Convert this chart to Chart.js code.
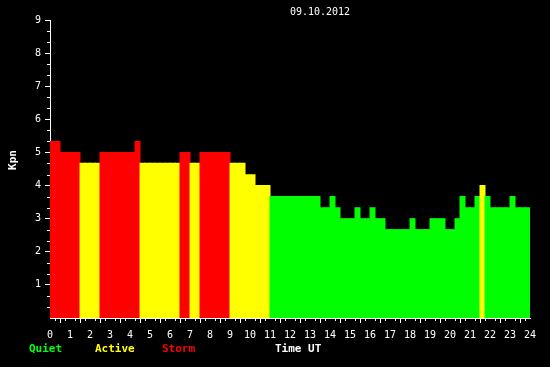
<!DOCTYPE html>
<html>
<head>
<meta charset="utf-8">
<script src="https://cdn.jsdelivr.net/npm/chart.js@4.4.0/dist/chart.umd.min.js"></script>
<style>
html,body{margin:0;padding:0;background:#000;}
canvas{display:block;}
</style>
</head>
<body>
<canvas id="c" width="550" height="367"></canvas>
<script>
// 15-minute Kp values, 00:00 to 24:00 UT (96 slots)
const kpRuns = [
  [5.33,2],[5.0,4],[4.67,4],[5.0,7],[5.33,1],[4.67,8],[5.0,2],[4.67,2],[5.0,6],
  [4.67,3],[4.33,2],[4.0,3],
  [3.67,10],[3.33,2],[3.67,1],[3.33,1],[3.0,3],[3.33,1],[3.0,2],[3.33,1],[3.0,2],
  [2.67,5],[3.0,1],[2.67,3],[3.0,3],[2.67,2],[3.0,1],[3.67,1],[3.33,2],[3.67,1],
  [4.0,1],[3.67,1],[3.33,4],[3.67,1],[3.33,3]
];
const kpValues = [];
kpRuns.forEach(([v,n]) => { for (let i=0;i<n;i++) kpValues.push(v); });
const slotHours = kpValues.map((v,i) => i*0.25 + 0.125);
const xTickValues = Array.from({length:25},(_,i)=>i);
const yTickLabels = ['','1','2','3','4','5','6','7','8','9'];
const titleText = '09.10.2012';
const legendItems = [
  {text:'Quiet', color:'#00ff00', x:29},
  {text:'Active', color:'#ffff00', x:95},
  {text:'Storm', color:'#ff0000', x:162},
  {text:'Time UT', color:'#ffffff', x:275}
];

function kpColor(v){ return v >= 5 ? '#ff0000' : (v >= 4 ? '#ffff00' : '#00ff00'); }

const MONO = '"DejaVu Sans Mono", monospace';

const decor = {
  id:'decor',
  beforeDraw(chart){
    const c = chart.ctx;
    c.save(); c.fillStyle='#000'; c.fillRect(0,0,chart.width,chart.height); c.restore();
  },
  afterDraw(chart){
    const c = chart.ctx, xs = chart.scales.x, ys = chart.scales.y;
    const area = chart.chartArea;
    c.save();
    c.strokeStyle = '#fff'; c.lineWidth = 1;
    // minor x ticks every 15 min
    for (let t=0.25; t<24; t+=0.25){
      if (Math.abs(t-Math.round(t))<1e-6) continue;
      const px = Math.round(xs.getPixelForValue(t)) + 0.5;
      c.beginPath(); c.moveTo(px, area.bottom); c.lineTo(px, area.bottom+3); c.stroke();
    }
    // minor y ticks every 1/3
    for (let k=1; k<27; k++){
      if (k%3===0) continue;
      const py = Math.round(ys.getPixelForValue(k/3)) + 0.5;
      c.beginPath(); c.moveTo(area.left-3, py); c.lineTo(area.left, py); c.stroke();
    }
    // title
    c.fillStyle = '#fff';
    c.font = '10px ' + MONO;
    c.textAlign = 'center'; c.textBaseline = 'middle';
    c.fillText(titleText, 320, 12);
    // legend / axis label row
    c.font = 'bold 11px ' + MONO;
    c.textAlign = 'left';
    legendItems.forEach(it => { c.fillStyle = it.color; c.fillText(it.text, it.x, 349); });
    // y-axis title
    c.save();
    c.translate(13, 160); c.rotate(-Math.PI/2);
    c.fillStyle = '#fff'; c.textAlign = 'center'; c.textBaseline = 'middle';
    c.fillText('Kpn', 0, 0);
    c.restore();
    c.restore();
  }
};

new Chart(document.getElementById('c'), {
  type:'bar',
  data:{
    datasets:[{
      data: slotHours.map((x,i)=>({x, y:kpValues[i]})),
      backgroundColor: kpValues.map(kpColor),
      borderWidth:0,
      barPercentage:1,
      categoryPercentage:1,
      inflateAmount:0.5
    }]
  },
  options:{
    responsive:false,
    animation:false,
    devicePixelRatio:1,
    layout:{padding:{top:20,right:20,left:0,bottom:0}},
    plugins:{legend:{display:false}, tooltip:{enabled:false}, title:{display:false}},
    scales:{
      x:{
        type:'linear', min:0, max:24, offset:false,
        afterBuildTicks(scale){ scale.ticks = xTickValues.map(v=>({value:v})); },
        afterFit(scale){ scale.height = 49; },
        ticks:{ color:'#fff', font:{family:MONO, size:10}, padding:6, autoSkip:false, maxRotation:0, callback:v=>String(v) },
        grid:{ display:true, drawOnChartArea:false, drawTicks:true, tickLength:5, tickColor:'#fff', color:'#fff' },
        border:{ display:true, color:'#fff', width:1 }
      },
      y:{
        min:0, max:9,
        afterBuildTicks(scale){ scale.ticks = yTickLabels.map((l,i)=>({value:i})); },
        afterFit(scale){ scale.width = 50; },
        ticks:{ color:'#fff', font:{family:MONO, size:10}, padding:4, callback:(v)=>yTickLabels[v] },
        grid:{ display:true, drawOnChartArea:false, drawTicks:true, tickLength:5,
               tickColor:(ctx)=> (ctx.tick && ctx.tick.value===0) ? 'rgba(0,0,0,0)' : '#fff' },
        border:{ display:true, color:'#fff', width:1 }
      }
    }
  },
  plugins:[decor]
});
</script>
</body>
</html>
